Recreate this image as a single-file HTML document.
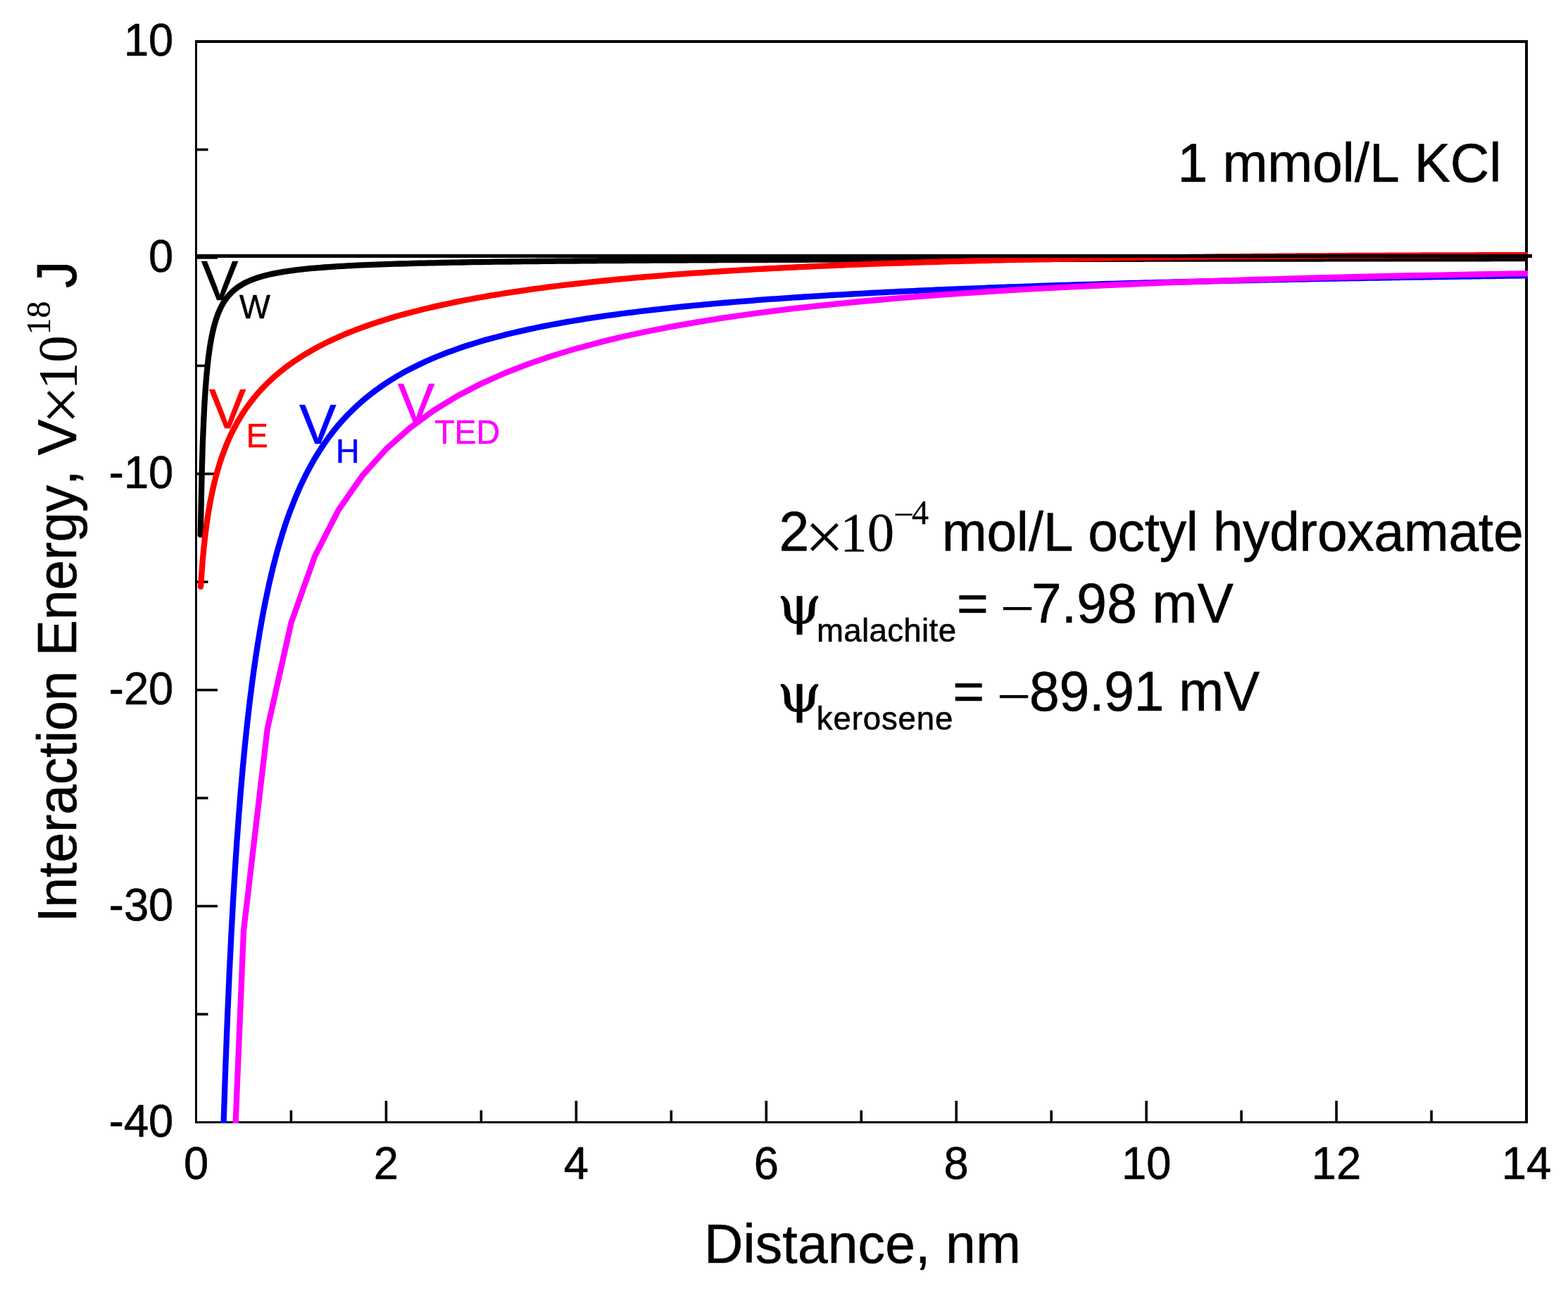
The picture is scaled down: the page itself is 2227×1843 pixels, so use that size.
<!DOCTYPE html>
<html lang="en"><head><meta charset="utf-8">
<title>Interaction energy versus distance</title>
<style>
html,body{margin:0;padding:0;background:#fff;}
body{width:2227px;height:1843px;overflow:hidden;}
svg{display:block;}
text{font-family:'Liberation Sans', sans-serif;fill:#000;font-kerning:none;stroke:#000;stroke-width:0.6px;stroke-linejoin:round;}
.se{font-family:'Liberation Serif', serif;stroke-width:0.3px;}
.sy{font-family:'Liberation Serif', serif;stroke:none;}
.gk{font-family:'DejaVu Serif', 'Liberation Serif', serif;}
.cv{fill:none;stroke-width:8.3;stroke-linejoin:round;stroke-linecap:round;}
</style></head><body>
<svg width="2227" height="1843" viewBox="0 0 2227 1843">
<rect width="2227" height="1843" fill="#fff"/>
<defs><clipPath id="c"><rect x="277" y="57" width="1893" height="1538"/></clipPath></defs>
<g fill="#000">
<rect x="411.66" y="1576.5" width="3.6" height="17"/>
<rect x="546.63" y="1563" width="3.6" height="30.5"/>
<rect x="681.59" y="1576.5" width="3.6" height="17"/>
<rect x="816.56" y="1563" width="3.6" height="30.5"/>
<rect x="951.52" y="1576.5" width="3.6" height="17"/>
<rect x="1086.49" y="1563" width="3.6" height="30.5"/>
<rect x="1221.45" y="1576.5" width="3.6" height="17"/>
<rect x="1356.41" y="1563" width="3.6" height="30.5"/>
<rect x="1491.38" y="1576.5" width="3.6" height="17"/>
<rect x="1626.34" y="1563" width="3.6" height="30.5"/>
<rect x="1761.31" y="1576.5" width="3.6" height="17"/>
<rect x="1896.27" y="1563" width="3.6" height="30.5"/>
<rect x="2031.24" y="1576.5" width="3.6" height="17"/>
<rect x="278.5" y="210.65" width="17" height="3.6"/>
<rect x="278.5" y="364.1" width="30.5" height="3.6"/>
<rect x="278.5" y="517.55" width="17" height="3.6"/>
<rect x="278.5" y="671" width="30.5" height="3.6"/>
<rect x="278.5" y="824.45" width="17" height="3.6"/>
<rect x="278.5" y="977.9" width="30.5" height="3.6"/>
<rect x="278.5" y="1131.35" width="17" height="3.6"/>
<rect x="278.5" y="1284.8" width="30.5" height="3.6"/>
<rect x="278.5" y="1438.25" width="17" height="3.6"/>
</g>
<g fill="#000" shape-rendering="crispEdges">
<rect x="277" y="57" width="1893" height="4"/>
<rect x="277" y="1592" width="1893" height="3"/>
<rect x="277" y="57" width="3" height="1538"/>
<rect x="2166" y="57" width="4" height="1538"/>
</g>
<g clip-path="url(#c)">
<path class="cv" stroke="#000" d="M284.8,759.4 L286.6,672.8 L287.9,629.0 L289.3,596.1 L290.6,570.5 L292.0,550.0 L293.3,533.3 L294.7,519.4 L296.0,507.5 L297.4,497.4 L298.7,488.7 L300.1,481.0 L301.4,474.2 L302.8,468.2 L304.1,462.8 L305.5,458.0 L306.8,453.6 L308.2,449.6 L309.5,446.0 L310.9,442.6 L312.2,439.6 L313.6,436.7 L314.9,434.1 L316.3,431.7 L317.6,429.4 L319.0,427.3 L320.3,425.3 L321.7,423.4 L323.0,421.7 L324.4,420.1 L325.7,418.5 L327.1,417.1 L328.4,415.7 L329.8,414.4 L331.1,413.1 L332.5,411.9 L333.8,410.8 L335.2,409.7 L336.5,408.7 L337.9,407.8 L339.2,406.8 L340.6,405.9 L341.9,405.1 L343.3,404.3 L344.6,403.5 L346.0,402.7 L347.3,402.0 L348.7,401.3 L350.0,400.6 L351.4,400.0 L352.7,399.4 L354.1,398.8 L355.4,398.2 L356.8,397.6 L358.1,397.1 L359.5,396.6 L360.8,396.1 L362.2,395.6 L363.5,395.1 L364.9,394.7 L366.2,394.2 L367.6,393.8 L368.9,393.4 L370.3,393.0 L371.6,392.6 L373.0,392.2 L374.3,391.8 L375.7,391.5 L377.0,391.1 L378.4,390.8 L379.7,390.5 L381.1,390.1 L382.4,389.8 L383.8,389.5 L385.1,389.2 L386.5,388.9 L387.8,388.6 L389.2,388.4 L390.5,388.1 L391.9,387.8 L393.2,387.6 L394.6,387.3 L395.9,387.1 L397.3,386.8 L398.6,386.6 L400.0,386.4 L401.3,386.1 L402.7,385.9 L404.0,385.7 L405.4,385.5 L406.7,385.3 L408.1,385.1 L409.4,384.9 L410.8,384.7 L412.1,384.5 L413.5,384.3 L420.2,383.4 L427.0,382.6 L433.7,381.9 L440.5,381.2 L447.2,380.6 L454.0,380.1 L460.7,379.5 L467.4,379.1 L474.2,378.6 L480.9,378.2 L487.7,377.8 L494.4,377.4 L501.2,377.1 L507.9,376.7 L514.7,376.4 L521.4,376.1 L528.2,375.9 L534.9,375.6 L541.7,375.3 L548.4,375.1 L555.2,374.9 L561.9,374.7 L568.7,374.5 L575.4,374.3 L582.2,374.1 L588.9,373.9 L595.7,373.7 L602.4,373.6 L609.2,373.4 L615.9,373.3 L622.7,373.1 L629.4,373.0 L636.2,372.8 L642.9,372.7 L649.7,372.6 L656.4,372.5 L663.1,372.4 L669.9,372.2 L676.6,372.1 L683.4,372.0 L690.1,371.9 L696.9,371.8 L703.6,371.7 L710.4,371.7 L717.1,371.6 L723.9,371.5 L730.6,371.4 L737.4,371.3 L744.1,371.2 L750.9,371.2 L757.6,371.1 L764.4,371.0 L771.1,370.9 L777.9,370.9 L784.6,370.8 L791.4,370.7 L798.1,370.7 L804.9,370.6 L811.6,370.6 L818.4,370.5 L825.1,370.4 L831.9,370.4 L838.6,370.3 L845.4,370.3 L852.1,370.2 L858.8,370.2 L865.6,370.1 L872.3,370.1 L879.1,370.0 L885.8,370.0 L892.6,369.9 L899.3,369.9 L906.1,369.9 L912.8,369.8 L919.6,369.8 L926.3,369.7 L933.1,369.7 L939.8,369.7 L946.6,369.6 L953.3,369.6 L960.1,369.5 L966.8,369.5 L973.6,369.5 L980.3,369.4 L987.1,369.4 L993.8,369.4 L1000.6,369.3 L1007.3,369.3 L1014.1,369.3 L1020.8,369.2 L1027.6,369.2 L1034.3,369.2 L1041.0,369.2 L1047.8,369.1 L1054.5,369.1 L1061.3,369.1 L1068.0,369.0 L1074.8,369.0 L1081.5,369.0 L1088.3,369.0 L1095.0,368.9 L1101.8,368.9 L1108.5,368.9 L1115.3,368.9 L1122.0,368.8 L1128.8,368.8 L1135.5,368.8 L1142.3,368.8 L1149.0,368.8 L1155.8,368.7 L1162.5,368.7 L1169.3,368.7 L1176.0,368.7 L1182.8,368.6 L1189.5,368.6 L1196.3,368.6 L1203.0,368.6 L1209.8,368.6 L1216.5,368.5 L1223.2,368.5 L1230.0,368.5 L1236.7,368.5 L1243.5,368.5 L1250.2,368.5 L1257.0,368.4 L1263.7,368.4 L1270.5,368.4 L1277.2,368.4 L1284.0,368.4 L1290.7,368.4 L1297.5,368.3 L1304.2,368.3 L1311.0,368.3 L1317.7,368.3 L1324.5,368.3 L1331.2,368.3 L1338.0,368.2 L1344.7,368.2 L1351.5,368.2 L1358.2,368.2 L1365.0,368.2 L1371.7,368.2 L1378.5,368.2 L1385.2,368.1 L1392.0,368.1 L1398.7,368.1 L1405.5,368.1 L1412.2,368.1 L1418.9,368.1 L1425.7,368.1 L1432.4,368.1 L1439.2,368.0 L1445.9,368.0 L1452.7,368.0 L1459.4,368.0 L1466.2,368.0 L1472.9,368.0 L1479.7,368.0 L1486.4,368.0 L1493.2,367.9 L1499.9,367.9 L1506.7,367.9 L1513.4,367.9 L1520.2,367.9 L1526.9,367.9 L1533.7,367.9 L1540.4,367.9 L1547.2,367.9 L1553.9,367.8 L1560.7,367.8 L1567.4,367.8 L1574.2,367.8 L1580.9,367.8 L1587.7,367.8 L1594.4,367.8 L1601.2,367.8 L1607.9,367.8 L1614.6,367.8 L1621.4,367.8 L1628.1,367.7 L1634.9,367.7 L1641.6,367.7 L1648.4,367.7 L1655.1,367.7 L1661.9,367.7 L1668.6,367.7 L1675.4,367.7 L1682.1,367.7 L1688.9,367.7 L1695.6,367.7 L1702.4,367.6 L1709.1,367.6 L1715.9,367.6 L1722.6,367.6 L1729.4,367.6 L1736.1,367.6 L1742.9,367.6 L1749.6,367.6 L1756.4,367.6 L1763.1,367.6 L1769.9,367.6 L1776.6,367.6 L1783.4,367.6 L1790.1,367.5 L1796.8,367.5 L1803.6,367.5 L1810.3,367.5 L1817.1,367.5 L1823.8,367.5 L1830.6,367.5 L1837.3,367.5 L1844.1,367.5 L1850.8,367.5 L1857.6,367.5 L1864.3,367.5 L1871.1,367.5 L1877.8,367.5 L1884.6,367.4 L1891.3,367.4 L1898.1,367.4 L1904.8,367.4 L1911.6,367.4 L1918.3,367.4 L1925.1,367.4 L1931.8,367.4 L1938.6,367.4 L1945.3,367.4 L1952.1,367.4 L1958.8,367.4 L1965.6,367.4 L1972.3,367.4 L1979.1,367.4 L1985.8,367.4 L1992.5,367.3 L1999.3,367.3 L2006.0,367.3 L2012.8,367.3 L2019.5,367.3 L2026.3,367.3 L2033.0,367.3 L2039.8,367.3 L2046.5,367.3 L2053.3,367.3 L2060.0,367.3 L2066.8,367.3 L2073.5,367.3 L2080.3,367.3 L2087.0,367.3 L2093.8,367.3 L2100.5,367.3 L2107.3,367.3 L2114.0,367.3 L2120.8,367.2 L2127.5,367.2 L2134.3,367.2 L2141.0,367.2 L2147.8,367.2 L2154.5,367.2 L2161.3,367.2 L2168.0,367.2 L2174.7,367.2 L2181.5,367.2"/>
<path class="cv" stroke="#f00" d="M285.1,833.0 L286.6,811.2 L287.9,794.4 L289.3,779.9 L290.6,767.2 L292.0,755.8 L293.3,745.5 L294.7,736.1 L296.0,727.4 L297.4,719.5 L298.7,712.0 L300.1,705.1 L301.4,698.6 L302.8,692.5 L304.1,686.7 L305.5,681.2 L306.8,676.0 L308.2,671.1 L309.5,666.4 L310.9,661.8 L312.2,657.5 L313.6,653.3 L314.9,649.4 L316.3,645.5 L317.6,641.8 L319.0,638.2 L320.3,634.8 L321.7,631.4 L323.0,628.2 L324.4,625.1 L325.7,622.0 L327.1,619.1 L328.4,616.2 L329.8,613.5 L331.1,610.8 L332.5,608.1 L333.8,605.6 L335.2,603.1 L336.5,600.6 L337.9,598.2 L339.2,595.9 L340.6,593.7 L341.9,591.4 L343.3,589.3 L344.6,587.1 L346.0,585.1 L347.3,583.0 L348.7,581.1 L350.0,579.1 L351.4,577.2 L352.7,575.3 L354.1,573.5 L355.4,571.7 L356.8,569.9 L358.1,568.2 L359.5,566.5 L360.8,564.8 L362.2,563.2 L363.5,561.6 L364.9,560.0 L366.2,558.4 L367.6,556.9 L368.9,555.4 L370.3,553.9 L371.6,552.4 L373.0,551.0 L374.3,549.6 L375.7,548.2 L377.0,546.8 L378.4,545.5 L379.7,544.1 L381.1,542.8 L382.4,541.5 L383.8,540.3 L385.1,539.0 L386.5,537.8 L387.8,536.5 L389.2,535.3 L390.5,534.1 L391.9,533.0 L393.2,531.8 L394.6,530.7 L395.9,529.5 L397.3,528.4 L398.6,527.3 L400.0,526.2 L401.3,525.2 L402.7,524.1 L404.0,523.1 L405.4,522.0 L406.7,521.0 L408.1,520.0 L409.4,519.0 L410.8,518.0 L412.1,517.0 L413.5,516.1 L420.2,511.4 L427.0,507.0 L433.7,502.8 L440.5,498.8 L447.2,495.0 L454.0,491.4 L460.7,487.9 L467.4,484.6 L474.2,481.5 L480.9,478.4 L487.7,475.5 L494.4,472.7 L501.2,470.0 L507.9,467.4 L514.7,464.9 L521.4,462.5 L528.2,460.1 L534.9,457.9 L541.7,455.7 L548.4,453.6 L555.2,451.5 L561.9,449.5 L568.7,447.6 L575.4,445.7 L582.2,443.9 L588.9,442.2 L595.7,440.5 L602.4,438.8 L609.2,437.2 L615.9,435.6 L622.7,434.1 L629.4,432.6 L636.2,431.2 L642.9,429.8 L649.7,428.4 L656.4,427.0 L663.1,425.7 L669.9,424.5 L676.6,423.2 L683.4,422.0 L690.1,420.8 L696.9,419.7 L703.6,418.6 L710.4,417.5 L717.1,416.4 L723.9,415.3 L730.6,414.3 L737.4,413.3 L744.1,412.3 L750.9,411.4 L757.6,410.4 L764.4,409.5 L771.1,408.6 L777.9,407.7 L784.6,406.9 L791.4,406.0 L798.1,405.2 L804.9,404.4 L811.6,403.6 L818.4,402.8 L825.1,402.1 L831.9,401.3 L838.6,400.6 L845.4,399.9 L852.1,399.2 L858.8,398.5 L865.6,397.8 L872.3,397.2 L879.1,396.5 L885.8,395.9 L892.6,395.3 L899.3,394.7 L906.1,394.1 L912.8,393.5 L919.6,392.9 L926.3,392.4 L933.1,391.8 L939.8,391.3 L946.6,390.7 L953.3,390.2 L960.1,389.7 L966.8,389.2 L973.6,388.7 L980.3,388.2 L987.1,387.7 L993.8,387.3 L1000.6,386.8 L1007.3,386.3 L1014.1,385.9 L1020.8,385.5 L1027.6,385.0 L1034.3,384.6 L1041.0,384.2 L1047.8,383.8 L1054.5,383.4 L1061.3,383.0 L1068.0,382.6 L1074.8,382.2 L1081.5,381.9 L1088.3,381.5 L1095.0,381.2 L1101.8,380.8 L1108.5,380.5 L1115.3,380.1 L1122.0,379.8 L1128.8,379.5 L1135.5,379.1 L1142.3,378.8 L1149.0,378.5 L1155.8,378.2 L1162.5,377.9 L1169.3,377.6 L1176.0,377.3 L1182.8,377.0 L1189.5,376.7 L1196.3,376.5 L1203.0,376.2 L1209.8,375.9 L1216.5,375.7 L1223.2,375.4 L1230.0,375.1 L1236.7,374.9 L1243.5,374.7 L1250.2,374.4 L1257.0,374.2 L1263.7,373.9 L1270.5,373.7 L1277.2,373.5 L1284.0,373.3 L1290.7,373.0 L1297.5,372.8 L1304.2,372.6 L1311.0,372.4 L1317.7,372.2 L1324.5,372.0 L1331.2,371.8 L1338.0,371.6 L1344.7,371.4 L1351.5,371.2 L1358.2,371.1 L1365.0,370.9 L1371.7,370.7 L1378.5,370.5 L1385.2,370.3 L1392.0,370.2 L1398.7,370.0 L1405.5,369.8 L1412.2,369.7 L1418.9,369.5 L1425.7,369.4 L1432.4,369.2 L1439.2,369.1 L1445.9,368.9 L1452.7,368.8 L1459.4,368.6 L1466.2,368.5 L1472.9,368.4 L1479.7,368.2 L1486.4,368.1 L1493.2,368.0 L1499.9,367.8 L1506.7,367.7 L1513.4,367.6 L1520.2,367.5 L1526.9,367.3 L1533.7,367.2 L1540.4,367.1 L1547.2,367.0 L1553.9,366.9 L1560.7,366.8 L1567.4,366.6 L1574.2,366.5 L1580.9,366.4 L1587.7,366.3 L1594.4,366.2 L1601.2,366.1 L1607.9,366.0 L1614.6,365.9 L1621.4,365.8 L1628.1,365.8 L1634.9,365.7 L1641.6,365.6 L1648.4,365.5 L1655.1,365.4 L1661.9,365.3 L1668.6,365.2 L1675.4,365.2 L1682.1,365.1 L1688.9,365.0 L1695.6,364.9 L1702.4,364.8 L1709.1,364.8 L1715.9,364.7 L1722.6,364.6 L1729.4,364.5 L1736.1,364.5 L1742.9,364.4 L1749.6,364.3 L1756.4,364.3 L1763.1,364.2 L1769.9,364.2 L1776.6,364.1 L1783.4,364.0 L1790.1,364.0 L1796.8,363.9 L1803.6,363.9 L1810.3,363.8 L1817.1,363.7 L1823.8,363.7 L1830.6,363.6 L1837.3,363.6 L1844.1,363.5 L1850.8,363.5 L1857.6,363.4 L1864.3,363.4 L1871.1,363.3 L1877.8,363.3 L1884.6,363.3 L1891.3,363.2 L1898.1,363.2 L1904.8,363.1 L1911.6,363.1 L1918.3,363.0 L1925.1,363.0 L1931.8,363.0 L1938.6,362.9 L1945.3,362.9 L1952.1,362.9 L1958.8,362.8 L1965.6,362.8 L1972.3,362.7 L1979.1,362.7 L1985.8,362.7 L1992.5,362.7 L1999.3,362.6 L2006.0,362.6 L2012.8,362.6 L2019.5,362.5 L2026.3,362.5 L2033.0,362.5 L2039.8,362.5 L2046.5,362.4 L2053.3,362.4 L2060.0,362.4 L2066.8,362.3 L2073.5,362.3 L2080.3,362.3 L2087.0,362.3 L2093.8,362.3 L2100.5,362.2 L2107.3,362.2 L2114.0,362.2 L2120.8,362.2 L2127.5,362.2 L2134.3,362.1 L2141.0,362.1 L2147.8,362.1 L2154.5,362.1 L2161.3,362.1 L2168.0,362.1 L2174.7,362.0 L2181.5,362.0"/>
<path class="cv" stroke="#00f" d="M305.5,2145.9 L306.8,2061.2 L308.2,1984.1 L309.5,1913.7 L310.9,1849.2 L312.2,1789.9 L313.6,1735.1 L314.9,1684.4 L316.3,1637.3 L317.6,1593.5 L319.0,1552.6 L320.3,1514.3 L321.7,1478.4 L323.0,1444.7 L324.4,1413.0 L325.7,1383.1 L327.1,1354.8 L328.4,1328.1 L329.8,1302.8 L331.1,1278.7 L332.5,1255.9 L333.8,1234.2 L335.2,1213.5 L336.5,1193.8 L337.9,1175.0 L339.2,1157.0 L340.6,1139.8 L341.9,1123.4 L343.3,1107.6 L344.6,1092.4 L346.0,1077.9 L347.3,1063.9 L348.7,1050.5 L350.0,1037.6 L351.4,1025.2 L352.7,1013.2 L354.1,1001.6 L355.4,990.5 L356.8,979.7 L358.1,969.3 L359.5,959.2 L360.8,949.5 L362.2,940.1 L363.5,931.0 L364.9,922.2 L366.2,913.6 L367.6,905.3 L368.9,897.2 L370.3,889.4 L371.6,881.8 L373.0,874.5 L374.3,867.3 L375.7,860.4 L377.0,853.6 L378.4,847.0 L379.7,840.6 L381.1,834.3 L382.4,828.2 L383.8,822.3 L385.1,816.5 L386.5,810.9 L387.8,805.4 L389.2,800.1 L390.5,794.8 L391.9,789.7 L393.2,784.7 L394.6,779.9 L395.9,775.1 L397.3,770.5 L398.6,765.9 L400.0,761.5 L401.3,757.1 L402.7,752.9 L404.0,748.7 L405.4,744.6 L406.7,740.6 L408.1,736.7 L409.4,732.9 L410.8,729.2 L412.1,725.5 L413.5,721.9 L420.2,705.0 L427.0,689.5 L433.7,675.5 L440.5,662.6 L447.2,650.7 L454.0,639.7 L460.7,629.6 L467.4,620.2 L474.2,611.4 L480.9,603.2 L487.7,595.6 L494.4,588.4 L501.2,581.7 L507.9,575.3 L514.7,569.3 L521.4,563.7 L528.2,558.3 L534.9,553.3 L541.7,548.5 L548.4,543.9 L555.2,539.6 L561.9,535.4 L568.7,531.5 L575.4,527.7 L582.2,524.1 L588.9,520.7 L595.7,517.4 L602.4,514.2 L609.2,511.2 L615.9,508.3 L622.7,505.5 L629.4,502.8 L636.2,500.2 L642.9,497.8 L649.7,495.4 L656.4,493.0 L663.1,490.8 L669.9,488.7 L676.6,486.6 L683.4,484.6 L690.1,482.6 L696.9,480.7 L703.6,478.9 L710.4,477.2 L717.1,475.4 L723.9,473.8 L730.6,472.2 L737.4,470.6 L744.1,469.1 L750.9,467.6 L757.6,466.2 L764.4,464.8 L771.1,463.4 L777.9,462.1 L784.6,460.8 L791.4,459.6 L798.1,458.4 L804.9,457.2 L811.6,456.0 L818.4,454.9 L825.1,453.8 L831.9,452.7 L838.6,451.7 L845.4,450.7 L852.1,449.7 L858.8,448.7 L865.6,447.7 L872.3,446.8 L879.1,445.9 L885.8,445.0 L892.6,444.1 L899.3,443.3 L906.1,442.5 L912.8,441.6 L919.6,440.8 L926.3,440.1 L933.1,439.3 L939.8,438.6 L946.6,437.8 L953.3,437.1 L960.1,436.4 L966.8,435.7 L973.6,435.0 L980.3,434.4 L987.1,433.7 L993.8,433.1 L1000.6,432.4 L1007.3,431.8 L1014.1,431.2 L1020.8,430.6 L1027.6,430.0 L1034.3,429.5 L1041.0,428.9 L1047.8,428.4 L1054.5,427.8 L1061.3,427.3 L1068.0,426.8 L1074.8,426.2 L1081.5,425.7 L1088.3,425.2 L1095.0,424.7 L1101.8,424.3 L1108.5,423.8 L1115.3,423.3 L1122.0,422.9 L1128.8,422.4 L1135.5,422.0 L1142.3,421.5 L1149.0,421.1 L1155.8,420.7 L1162.5,420.3 L1169.3,419.8 L1176.0,419.4 L1182.8,419.0 L1189.5,418.6 L1196.3,418.3 L1203.0,417.9 L1209.8,417.5 L1216.5,417.1 L1223.2,416.8 L1230.0,416.4 L1236.7,416.0 L1243.5,415.7 L1250.2,415.3 L1257.0,415.0 L1263.7,414.7 L1270.5,414.3 L1277.2,414.0 L1284.0,413.7 L1290.7,413.4 L1297.5,413.1 L1304.2,412.7 L1311.0,412.4 L1317.7,412.1 L1324.5,411.8 L1331.2,411.5 L1338.0,411.3 L1344.7,411.0 L1351.5,410.7 L1358.2,410.4 L1365.0,410.1 L1371.7,409.9 L1378.5,409.6 L1385.2,409.3 L1392.0,409.1 L1398.7,408.8 L1405.5,408.5 L1412.2,408.3 L1418.9,408.0 L1425.7,407.8 L1432.4,407.5 L1439.2,407.3 L1445.9,407.1 L1452.7,406.8 L1459.4,406.6 L1466.2,406.4 L1472.9,406.1 L1479.7,405.9 L1486.4,405.7 L1493.2,405.5 L1499.9,405.2 L1506.7,405.0 L1513.4,404.8 L1520.2,404.6 L1526.9,404.4 L1533.7,404.2 L1540.4,404.0 L1547.2,403.8 L1553.9,403.6 L1560.7,403.4 L1567.4,403.2 L1574.2,403.0 L1580.9,402.8 L1587.7,402.6 L1594.4,402.4 L1601.2,402.2 L1607.9,402.0 L1614.6,401.9 L1621.4,401.7 L1628.1,401.5 L1634.9,401.3 L1641.6,401.1 L1648.4,401.0 L1655.1,400.8 L1661.9,400.6 L1668.6,400.5 L1675.4,400.3 L1682.1,400.1 L1688.9,400.0 L1695.6,399.8 L1702.4,399.6 L1709.1,399.5 L1715.9,399.3 L1722.6,399.2 L1729.4,399.0 L1736.1,398.9 L1742.9,398.7 L1749.6,398.6 L1756.4,398.4 L1763.1,398.3 L1769.9,398.1 L1776.6,398.0 L1783.4,397.8 L1790.1,397.7 L1796.8,397.5 L1803.6,397.4 L1810.3,397.3 L1817.1,397.1 L1823.8,397.0 L1830.6,396.9 L1837.3,396.7 L1844.1,396.6 L1850.8,396.5 L1857.6,396.3 L1864.3,396.2 L1871.1,396.1 L1877.8,395.9 L1884.6,395.8 L1891.3,395.7 L1898.1,395.6 L1904.8,395.4 L1911.6,395.3 L1918.3,395.2 L1925.1,395.1 L1931.8,395.0 L1938.6,394.8 L1945.3,394.7 L1952.1,394.6 L1958.8,394.5 L1965.6,394.4 L1972.3,394.3 L1979.1,394.2 L1985.8,394.0 L1992.5,393.9 L1999.3,393.8 L2006.0,393.7 L2012.8,393.6 L2019.5,393.5 L2026.3,393.4 L2033.0,393.3 L2039.8,393.2 L2046.5,393.1 L2053.3,393.0 L2060.0,392.9 L2066.8,392.8 L2073.5,392.7 L2080.3,392.6 L2087.0,392.5 L2093.8,392.4 L2100.5,392.3 L2107.3,392.2 L2114.0,392.1 L2120.8,392.0 L2127.5,391.9 L2134.3,391.8 L2141.0,391.7 L2147.8,391.6 L2154.5,391.5 L2161.3,391.4 L2168.0,391.3 L2174.7,391.2 L2181.5,391.1"/>
<path class="cv" stroke="#f0f" d="M312.2,2130.6 L346.0,1321.6 L379.7,1035.2 L413.5,884.3 L447.2,789.6 L480.9,723.9 L514.7,675.3 L548.4,637.7 L582.2,607.6 L615.9,582.9 L649.7,562.3 L683.4,544.8 L717.1,529.7 L750.9,516.6 L784.6,505.1 L818.4,494.9 L852.1,485.9 L885.8,477.7 L919.6,470.5 L953.3,463.9 L987.1,457.9 L1020.8,452.4 L1054.5,447.5 L1088.3,442.9 L1122.0,438.7 L1155.8,434.9 L1189.5,431.3 L1223.2,428.0 L1257.0,425.0 L1290.7,422.1 L1324.5,419.5 L1358.2,417.1 L1392.0,414.8 L1425.7,412.7 L1459.4,410.7 L1493.2,408.9 L1526.9,407.1 L1560.7,405.5 L1594.4,404.0 L1628.1,402.6 L1661.9,401.2 L1695.6,400.0 L1729.4,398.8 L1763.1,397.7 L1796.8,396.6 L1830.6,395.7 L1864.3,394.7 L1898.1,393.9 L1931.8,393.0 L1965.6,392.2 L1999.3,391.5 L2033.0,390.8 L2066.8,390.1 L2100.5,389.5 L2134.3,388.9 L2168.0,388.4 L2201.7,387.8"/>
</g>
<rect x="280" y="361" width="1896" height="5" fill="#000" shape-rendering="crispEdges"/>
<g id="tick-labels">
<text transform="translate(246.3,79.1) scale(1,1.03)" font-size="63.3" text-anchor="end">10</text>
<text transform="translate(246.3,386) scale(1,1.03)" font-size="63.3" text-anchor="end">0</text>
<text transform="translate(246.3,692.9) scale(1,1.03)" font-size="63.3" text-anchor="end">-10</text>
<text transform="translate(246.3,999.8) scale(1,1.03)" font-size="63.3" text-anchor="end">-20</text>
<text transform="translate(246.3,1306.7) scale(1,1.03)" font-size="63.3" text-anchor="end">-30</text>
<text transform="translate(246.3,1613.6) scale(1,1.03)" font-size="63.3" text-anchor="end">-40</text>
<text transform="translate(278.5,1674.2) scale(1,1.03)" font-size="63.3" text-anchor="middle">0</text>
<text transform="translate(548.43,1674.2) scale(1,1.03)" font-size="63.3" text-anchor="middle">2</text>
<text transform="translate(818.36,1674.2) scale(1,1.03)" font-size="63.3" text-anchor="middle">4</text>
<text transform="translate(1088.29,1674.2) scale(1,1.03)" font-size="63.3" text-anchor="middle">6</text>
<text transform="translate(1358.21,1674.2) scale(1,1.03)" font-size="63.3" text-anchor="middle">8</text>
<text transform="translate(1628.14,1674.2) scale(1,1.03)" font-size="63.3" text-anchor="middle">10</text>
<text transform="translate(1898.07,1674.2) scale(1,1.03)" font-size="63.3" text-anchor="middle">12</text>
<text transform="translate(2168,1674.2) scale(1,1.03)" font-size="63.3" text-anchor="middle">14</text>
</g>
<g id="axis-titles">
<text transform="translate(1000,1792.6) scale(1,1.02)" font-size="76.7" textLength="449.8" lengthAdjust="spacing">Distance, nm</text>
<text transform="translate(107.8,1309.6) rotate(-90) scale(1,1.02)" font-size="76.7" textLength="714.2" lengthAdjust="spacing">Interaction Energy, V</text>
<text transform="translate(119.3,602.4) rotate(-90)" font-size="98" class="sy">×</text>
<text transform="translate(107.8,553) rotate(-90) scale(1,1.02)" font-size="76.7" class="se">10</text>
<text transform="translate(70.5,475.4) rotate(-90) scale(1,1.02)" font-size="48" class="se">18</text>
<text transform="translate(107.8,409) rotate(-90) scale(1,1.04)" font-size="76.7">J</text>
</g>
<g id="annotations">
<text transform="translate(1672.6,258) scale(1,1.02)" font-size="76.7" textLength="459.6" lengthAdjust="spacing">1 mmol/L KCl</text>
<text transform="translate(1106.6,782) scale(1,1.03)" font-size="76.7">2</text>
<text transform="translate(1143.3,794.7)" font-size="98.3" class="sy">×</text>
<text transform="translate(1193.3,782) scale(1,1.02)" font-size="76.7" class="se">10</text>
<text transform="translate(1268.8,747.8)" font-size="52" class="sy">−</text>
<text transform="translate(1294.9,744.2) scale(1,1.02)" font-size="48" class="se">4</text>
<text transform="translate(1337.8,782) scale(1,1.02)" font-size="76.7" textLength="825.8" lengthAdjust="spacing">mol/L octyl hydroxamate</text>
<text transform="translate(1103.9,885) scale(1.062,1)" font-size="75.65" class="gk">ψ</text>
<text transform="translate(1159.9,911)" font-size="45.6" textLength="198.1" lengthAdjust="spacing">malachite</text>
<text transform="translate(1359.1,883.3)" font-size="76.7">=</text>
<text transform="translate(1420.7,892.88)" font-size="86.7" class="sy">−</text>
<text transform="translate(1464.9,884.3) scale(1,1.03)" font-size="76.7" textLength="287" lengthAdjust="spacing">7.98 mV</text>
<text transform="translate(1103.9,1010) scale(1.062,1)" font-size="75.65" class="gk">ψ</text>
<text transform="translate(1159.8,1036)" font-size="45.6" textLength="193.6" lengthAdjust="spacing">kerosene</text>
<text transform="translate(1353.3,1008.3)" font-size="76.7">=</text>
<text transform="translate(1415.7,1017.88)" font-size="86.7" class="sy">−</text>
<text transform="translate(1462,1009.3) scale(1,1.03)" font-size="76.7" textLength="327.2" lengthAdjust="spacing">89.91 mV</text>
</g>
<g id="curve-labels">
<text transform="translate(285.8,426.2) scale(1.03,1.04)" font-size="76.7" style="fill:#000;stroke:#000">V</text>
<text transform="translate(340,452.2) scale(1,1.03)" font-size="46.5" style="fill:#000;stroke:#000">W</text>
<text transform="translate(296.8,607.5) scale(1.03,1.04)" font-size="76.7" style="fill:#f00;stroke:#f00">V</text>
<text transform="translate(349.8,635) scale(1,1.03)" font-size="46.5" style="fill:#f00;stroke:#f00">E</text>
<text transform="translate(425,630) scale(1.03,1.04)" font-size="76.7" style="fill:#00f;stroke:#00f">V</text>
<text transform="translate(477,657) scale(1,1.03)" font-size="46.5" style="fill:#00f;stroke:#00f">H</text>
<text transform="translate(564.8,600.3) scale(1.03,1.04)" font-size="76.7" style="fill:#f0f;stroke:#f0f">V</text>
<text transform="translate(617.2,629.5) scale(1,1.03)" font-size="46.5" style="fill:#f0f;stroke:#f0f">TED</text>
</g>
</svg></body></html>
